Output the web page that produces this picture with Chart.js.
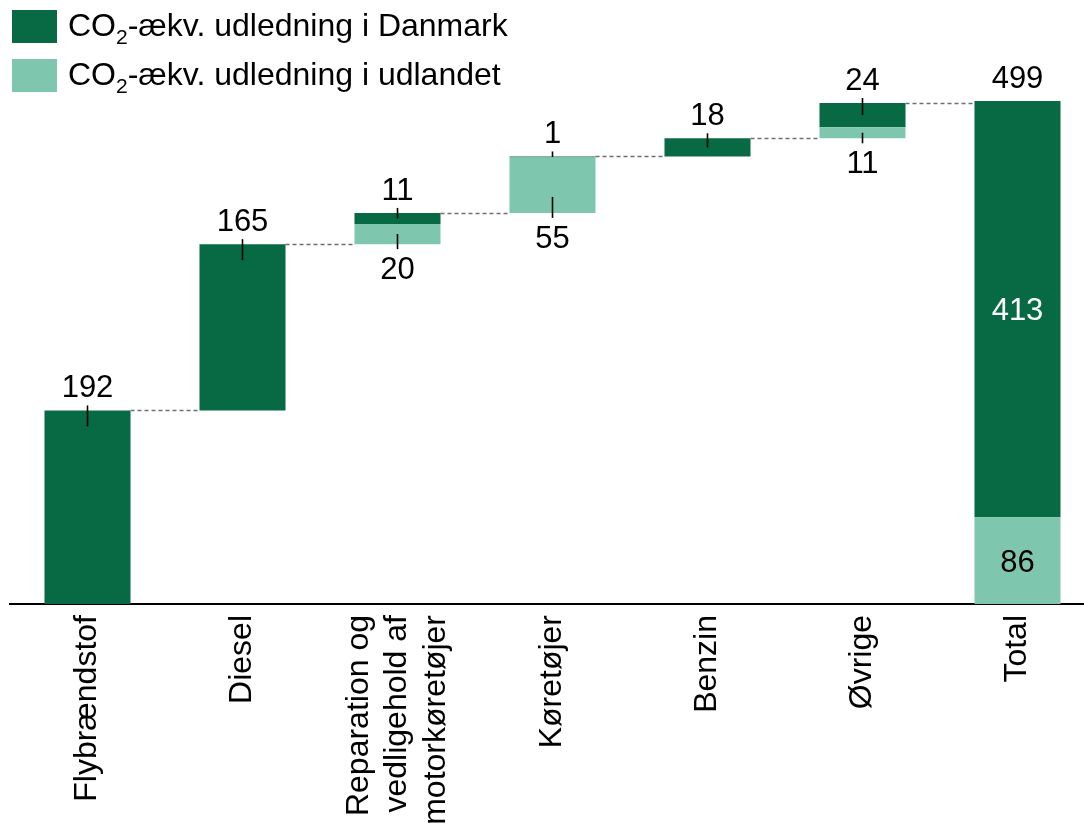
<!DOCTYPE html>
<html lang="da">
<head>
    <meta charset="UTF-8">
    <title>CO2-ækv. udledning</title>
    <script src="https://cdn.jsdelivr.net/npm/chart.js"></script>
    <style>
        html, body {
            margin: 0;
            padding: 0;
            background: #ffffff;
            overflow: hidden;
        }

        body {
            width: 1084px;
            height: 824px;
            position: relative;
            font-family: 'Liberation Sans', Arial, sans-serif;
        }

        .chart-box {
            position: absolute;
            left: 0;
            top: 0;
        }

        .legend {
            position: absolute;
            left: 12px;
            top: 10px;
            z-index: 2;
        }

        .legend-item {
            display: flex;
            align-items: center;
            height: 33px;
            margin-bottom: 16px;
            font-size: 32px;
            color: #000000;
            white-space: nowrap;
        }

        .legend-item .box {
            width: 45px;
            height: 33px;
            margin-right: 11px;
            flex: none;
        }

        .legend-item .txt {
            display: block;
            line-height: 33px;
        }

        .sub {
            font-size: 21px;
            position: relative;
            top: 8px;
        }
    </style>
</head>
<body>
    <div class="chart-box">
        <canvas id="waterfallChart" width="1095" height="824"></canvas>
    </div>

    <!-- Forklaring -->
    <div class="legend">
        <div class="legend-item"><span class="box" style="background:#076a44"></span><span class="txt">CO<span class="sub">2</span>-ækv. udledning i Danmark</span></div>
        <div class="legend-item"><span class="box" style="background:#7fc6ae"></span><span class="txt">CO<span class="sub">2</span>-ækv. udledning i udlandet</span></div>
    </div>

    <script>
        const categories = [
            'Flybrændstof',
            'Diesel',
            ['Reparation og', 'vedligehold af', 'motorkøretøjer'],
            'Køretøjer',
            'Benzin',
            'Øvrige',
            'Total'
        ];
        const danmark = [192, 165, 11, 1, 18, 24, 413];
        const udland = [0, 0, 20, 55, 0, 11, 86];
        const totalValue = 499;

        const darkGreen = '#076a44';
        const lightGreen = '#7fc6ae';
        const fontFamily = "'Liberation Sans', Arial, sans-serif";
        const axisFontSize = 32;
        const axisLineHeight = 1.2;

        // usynlig bund for vandfaldet (summen af de foregående søjler)
        const last = categories.length - 1;
        const base = [];
        let running = 0;
        for (let i = 0; i < categories.length; i++) {
            if (i === last) {
                base.push(0);
            } else {
                base.push(running);
                running += danmark[i] + udland[i];
            }
        }

        function tick(ctx, x, y1, y2) {
            ctx.beginPath();
            ctx.moveTo(x, y1);
            ctx.lineTo(x, y2);
            ctx.stroke();
        }

        // centrer etiketter med flere linjer om søjlens midte
        const centerLabelsPlugin = {
            id: 'centerLabels',
            beforeDraw(chart) {
                const scale = chart.scales.x;
                const items = scale.getLabelItems();
                items.forEach(item => {
                    if (Array.isArray(item.label) && !item._centered) {
                        const lh = axisFontSize * axisLineHeight;
                        item.textOffset -= (item.label.length - 1) / 2 * lh;
                        item._centered = true;
                    }
                });
            }
        };

        const labelPlugin = {
            id: 'waterfallLabels',
            afterDatasetsDraw(chart) {
                const ctx = chart.ctx;
                const udl = chart.getDatasetMeta(1).data;
                const dk = chart.getDatasetMeta(2).data;

                ctx.save();

                // stiplede forbindelseslinjer
                ctx.strokeStyle = '#6f6f6f';
                ctx.lineWidth = 1.5;
                ctx.setLineDash([4, 3]);
                for (let i = 0; i < last; i++) {
                    const a = dk[i];
                    const b = dk[i + 1];
                    const y = Math.round(a.y) + 0.5;
                    ctx.beginPath();
                    ctx.moveTo(a.x + a.width / 2, y);
                    ctx.lineTo(b.x - b.width / 2, y);
                    ctx.stroke();
                }
                ctx.setLineDash([]);

                ctx.font = '31px ' + fontFamily;
                ctx.textAlign = 'center';
                ctx.textBaseline = 'alphabetic';
                ctx.fillStyle = '#000000';
                ctx.strokeStyle = '#000000';
                ctx.lineWidth = 1.6;

                for (let i = 0; i < last; i++) {
                    if (danmark[i] > 0) {
                        const el = dk[i];
                        const h = el.base - el.y;
                        ctx.fillText(String(danmark[i]), el.x, el.y - 13);
                        tick(ctx, el.x, el.y - 5, el.y + Math.min(h / 2, 16));
                    }
                    if (udland[i] > 0) {
                        const el = udl[i];
                        const h = el.base - el.y;
                        ctx.fillText(String(udland[i]), el.x, el.base + 35);
                        tick(ctx, el.x, el.base + 5, el.base - Math.min(h / 2, 16));
                    }
                }

                // Total
                const t = dk[last];
                const tu = udl[last];
                ctx.fillText(String(totalValue), t.x, t.y - 13);
                ctx.fillStyle = '#ffffff';
                ctx.fillText(String(danmark[last]), t.x, (t.y + t.base) / 2 + 11);
                ctx.fillStyle = '#000000';
                ctx.fillText(String(udland[last]), tu.x, (tu.y + tu.base) / 2 + 11);

                ctx.restore();
            }
        };

        const ctx = document.getElementById('waterfallChart').getContext('2d');
        new Chart(ctx, {
            type: 'bar',
            data: {
                labels: categories,
                datasets: [
                    {
                        label: 'base',
                        data: base,
                        backgroundColor: 'rgba(0,0,0,0)'
                    },
                    {
                        label: 'CO2-ækv. udledning i udlandet',
                        data: udland,
                        backgroundColor: lightGreen
                    },
                    {
                        label: 'CO2-ækv. udledning i Danmark',
                        data: danmark,
                        backgroundColor: darkGreen
                    }
                ]
            },
            options: {
                responsive: false,
                animation: false,
                datasets: {
                    bar: {
                        categoryPercentage: 1,
                        barPercentage: 0.555
                    }
                },
                layout: {
                    padding: { top: 100, left: 10, right: 0, bottom: 0 }
                },
                plugins: {
                    legend: { display: false },
                    tooltip: { enabled: false }
                },
                scales: {
                    x: {
                        stacked: true,
                        offset: true,
                        grid: { display: false, drawTicks: false },
                        border: { display: true, color: '#000000', width: 2 },
                        ticks: {
                            color: '#000000',
                            font: { size: axisFontSize, family: fontFamily, lineHeight: axisLineHeight },
                            minRotation: 90,
                            maxRotation: 90,
                            autoSkip: false,
                            padding: 11
                        },
                        afterFit(scale) {
                            scale.height = 220;
                        }
                    },
                    y: {
                        stacked: true,
                        display: false,
                        min: 0,
                        max: 500
                    }
                }
            },
            plugins: [centerLabelsPlugin, labelPlugin]
        });
    </script>
</body>
</html>
